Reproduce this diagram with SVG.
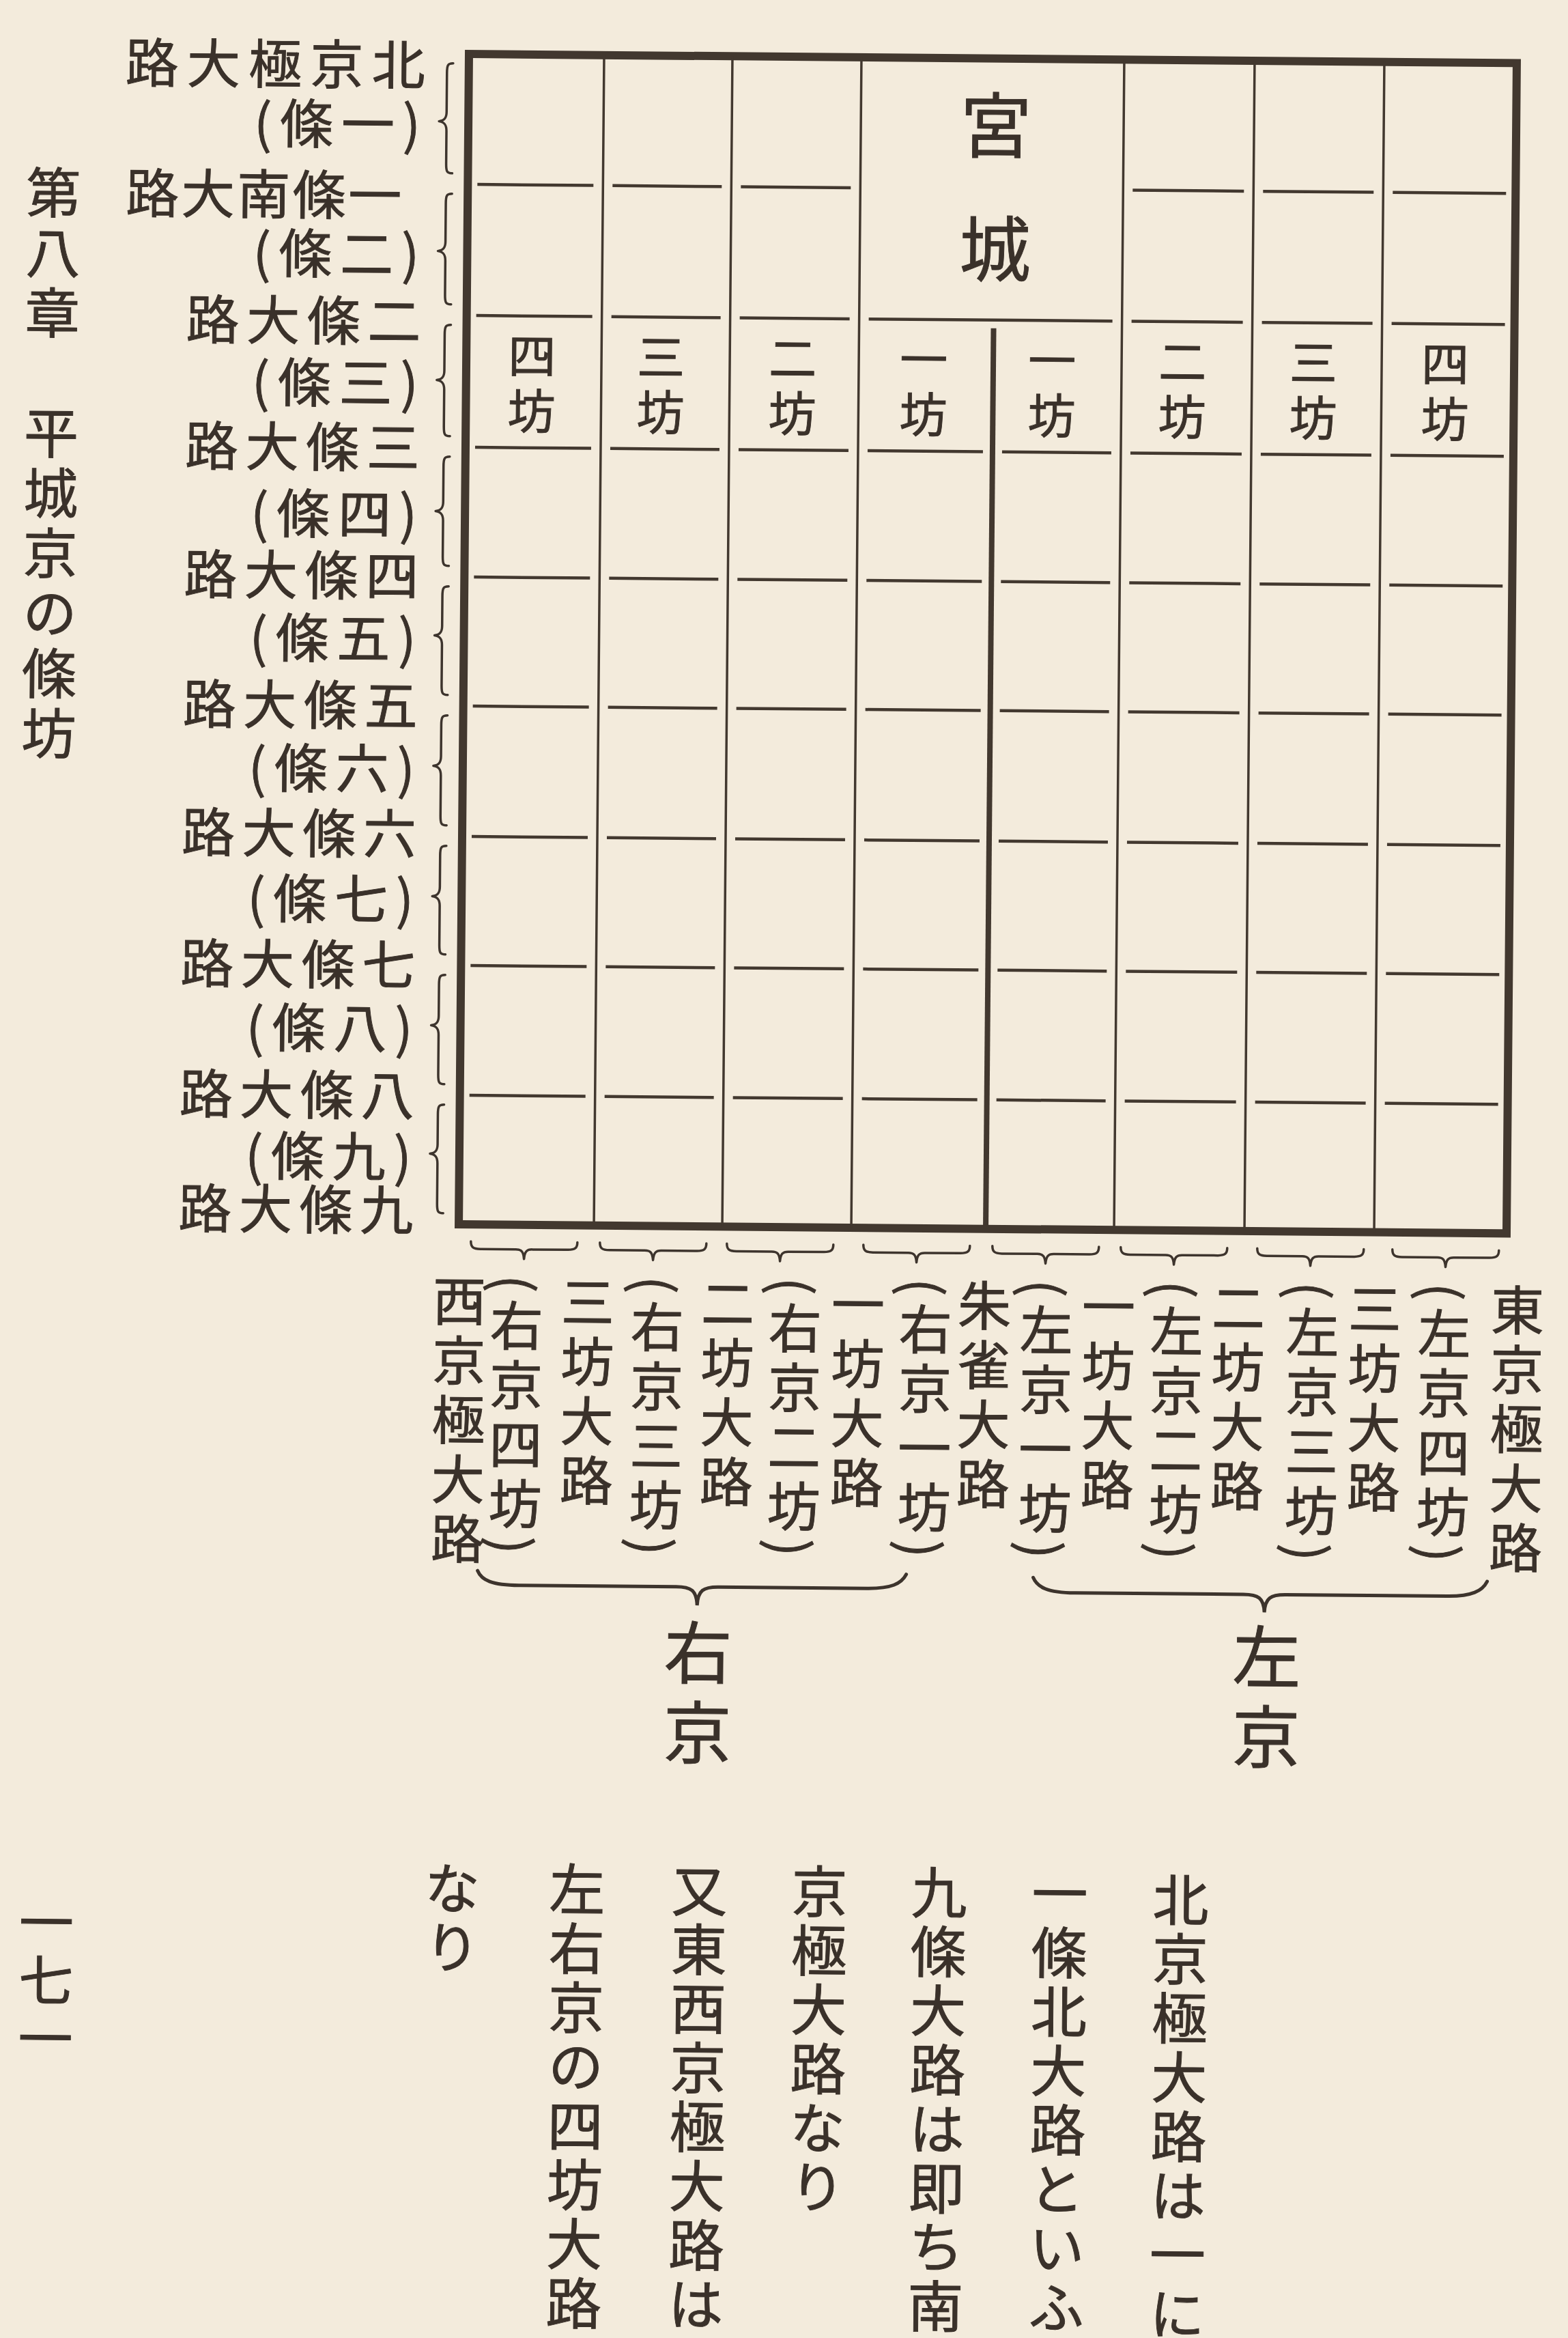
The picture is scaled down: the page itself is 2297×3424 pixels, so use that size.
<svg xmlns="http://www.w3.org/2000/svg" width="2297" height="3424" viewBox="0 0 2297 3424">
<style>
.t{font-family:"Noto Sans CJK JP","Noto Sans CJK SC",sans-serif;fill:#3a312a;stroke:#3a312a;stroke-width:0.9px}
.v{writing-mode:vertical-rl}
.g{stroke:#42382f;fill:none}
.br{stroke:#3d342d;fill:none;stroke-width:3.5;stroke-linecap:round;stroke-linejoin:round}
.bb{stroke:#3d342d;fill:none;stroke-width:5;stroke-linecap:round}
.lbl{font-size:78px}
.bo{font-size:70px;letter-spacing:11px}
.rd{font-size:78px;letter-spacing:9px}
.body{font-size:82px;letter-spacing:4.6px}
</style>
<rect width="2297" height="3424" fill="#f3ebdc"/>
<g transform="rotate(0.5 687 79)">
 <g id="grid">
  <rect x="687" y="79" width="1535" height="1714" class="g" stroke-width="12"/>
  <path class="g" stroke-width="3.5" d="M885 79V1793M1073 79V1793M1262 79V1793M1647 79V1793M1838 79V1793M2028 79V1793"/>
  <path class="g" stroke-width="8" d="M1459 474V1793"/>
  <path class="g" stroke-width="4.5" d="M701 270H871M899 270H1059M1087 270H1248M1661 270H1824M1852 270H2014M2042 270H2208
M701 462H871M899 462H1059M1087 462H1248M1276 462H1633M1661 462H1824M1852 462H2014M2042 462H2208
M701 655H871M899 655H1059M1087 655H1248M1276 655H1445M1473 655H1633M1661 655H1824M1852 655H2014M2042 655H2208
M701 845H871M899 845H1059M1087 845H1248M1276 845H1445M1473 845H1633M1661 845H1824M1852 845H2014M2042 845H2208
M701 1034H871M899 1034H1059M1087 1034H1248M1276 1034H1445M1473 1034H1633M1661 1034H1824M1852 1034H2014M2042 1034H2208
M701 1225H871M899 1225H1059M1087 1225H1248M1276 1225H1445M1473 1225H1633M1661 1225H1824M1852 1225H2014M2042 1225H2208
M701 1414H871M899 1414H1059M1087 1414H1248M1276 1414H1445M1473 1414H1633M1661 1414H1824M1852 1414H2014M2042 1414H2208
M701 1604H871M899 1604H1059M1087 1604H1248M1276 1604H1445M1473 1604H1633M1661 1604H1824M1852 1604H2014M2042 1604H2208"/>
 </g>
 <g id="palace">
  <text class="t v" x="1460" y="124" font-size="105" letter-spacing="76">宮城</text>
 </g>
 <g id="bo-labels">
  <text class="t v bo" x="783" y="485">四坊</text>
  <text class="t v bo" x="972" y="485">三坊</text>
  <text class="t v bo" x="1165" y="485">二坊</text>
  <text class="t v bo" x="1357" y="485">一坊</text>
  <text class="t v bo" x="1545" y="485">一坊</text>
  <text class="t v bo" x="1736" y="485">二坊</text>
  <text class="t v bo" x="1928" y="485">三坊</text>
  <text class="t v bo" x="2121" y="485">四坊</text>
 </g>
 <g id="jo-labels" dominant-baseline="central">
  <text class="t lbl" x="184" y="91" textLength="439" lengthAdjust="spacing">路大極京北</text>
  <text class="t lbl" x="373" y="178" textLength="244" lengthAdjust="spacing">(條一)</text>
  <text class="t lbl" x="186" y="282" textLength="404" lengthAdjust="spacing">路大南條一</text>
  <text class="t lbl" x="373" y="368" textLength="244" lengthAdjust="spacing">(條二)</text>
  <text class="t lbl" x="276" y="466" textLength="344" lengthAdjust="spacing">路大條二</text>
  <text class="t lbl" x="373" y="557" textLength="244" lengthAdjust="spacing">(條三)</text>
  <text class="t lbl" x="276" y="651" textLength="344" lengthAdjust="spacing">路大條三</text>
  <text class="t lbl" x="373" y="749" textLength="244" lengthAdjust="spacing">(條四)</text>
  <text class="t lbl" x="276" y="839" textLength="344" lengthAdjust="spacing">路大條四</text>
  <text class="t lbl" x="373" y="931" textLength="244" lengthAdjust="spacing">(條五)</text>
  <text class="t lbl" x="276" y="1029" textLength="344" lengthAdjust="spacing">路大條五</text>
  <text class="t lbl" x="373" y="1122" textLength="244" lengthAdjust="spacing">(條六)</text>
  <text class="t lbl" x="276" y="1217" textLength="344" lengthAdjust="spacing">路大條六</text>
  <text class="t lbl" x="373" y="1313" textLength="244" lengthAdjust="spacing">(條七)</text>
  <text class="t lbl" x="276" y="1409" textLength="344" lengthAdjust="spacing">路大條七</text>
  <text class="t lbl" x="373" y="1502" textLength="244" lengthAdjust="spacing">(條八)</text>
  <text class="t lbl" x="276" y="1600" textLength="344" lengthAdjust="spacing">路大條八</text>
  <text class="t lbl" x="373" y="1690" textLength="244" lengthAdjust="spacing">(條九)</text>
  <text class="t lbl" x="276" y="1768" textLength="344" lengthAdjust="spacing">路大條九</text>
 </g>
 <g id="oji-labels">
  <text class="t v rd" x="689" y="1866">西京極大路</text>
  <text class="t v rd" x="773" y="1866">(右京四坊)</text>
  <text class="t v rd" x="877" y="1866">三坊大路</text>
  <text class="t v rd" x="979" y="1866">(右京三坊)</text>
  <text class="t v rd" x="1082" y="1866">二坊大路</text>
  <text class="t v rd" x="1181" y="1866">(右京二坊)</text>
  <text class="t v rd" x="1273" y="1866">一坊大路</text>
  <text class="t v rd" x="1372" y="1866">(右京一坊)</text>
  <text class="t v rd" x="1458" y="1866">朱雀大路</text>
  <text class="t v rd" x="1549" y="1866">(左京一坊)</text>
  <text class="t v rd" x="1640" y="1866">一坊大路</text>
  <text class="t v rd" x="1740" y="1866">(左京二坊)</text>
  <text class="t v rd" x="1830" y="1866">二坊大路</text>
  <text class="t v rd" x="1939" y="1866">(左京三坊)</text>
  <text class="t v rd" x="2030" y="1866">三坊大路</text>
  <text class="t v rd" x="2132" y="1866">(左京四坊)</text>
  <text class="t v rd" x="2239" y="1866">東京極大路</text>
 </g>
 <g id="connectors">
  <path class="br" d="M664 93C656 93 655 96 655 107L655 164C655 173 652 177 644 178C652 179 655 183 655 192L655 240C655 251 656 254 664 254"/>
  <path class="br" d="M664 284C656 284 655 287 655 298L655 354C655 363 652 367 644 368C652 369 655 373 655 382L655 432C655 443 656 446 664 446"/>
  <path class="br" d="M664 476C656 476 655 479 655 490L655 543C655 552 652 556 644 557C652 558 655 562 655 571L655 625C655 636 656 639 664 639"/>
  <path class="br" d="M664 669C656 669 655 672 655 683L655 735C655 744 652 748 644 749C652 750 655 754 655 763L655 815C655 826 656 829 664 829"/>
  <path class="br" d="M664 859C656 859 655 862 655 873L655 917C655 926 652 930 644 931C652 932 655 936 655 945L655 1004C655 1015 656 1018 664 1018"/>
  <path class="br" d="M664 1048C656 1048 655 1051 655 1062L655 1108C655 1117 652 1121 644 1122C652 1123 655 1127 655 1136L655 1195C655 1206 656 1209 664 1209"/>
  <path class="br" d="M664 1239C656 1239 655 1242 655 1253L655 1299C655 1308 652 1312 644 1313C652 1314 655 1318 655 1327L655 1384C655 1395 656 1398 664 1398"/>
  <path class="br" d="M664 1428C656 1428 655 1431 655 1442L655 1488C655 1497 652 1501 644 1502C652 1503 655 1507 655 1516L655 1574C655 1585 656 1588 664 1588"/>
  <path class="br" d="M664 1618C656 1618 655 1621 655 1632L655 1676C655 1685 652 1689 644 1690C652 1691 655 1695 655 1704L655 1763C655 1774 656 1777 664 1777"/>
  <path class="br" d="M705 1818C705 1826 708 1829 719 1829L771 1829C779 1829 782 1832 783 1843C784 1832 787 1829 795 1829L847 1829C858 1829 861 1826 861 1818"/>
  <path class="br" d="M894 1818C894 1826 897 1829 908 1829L960 1829C968 1829 971 1832 972 1843C973 1832 976 1829 984 1829L1036 1829C1047 1829 1050 1826 1050 1818"/>
  <path class="br" d="M1080 1818C1080 1826 1083 1829 1094 1829L1146 1829C1154 1829 1157 1832 1158 1843C1159 1832 1162 1829 1170 1829L1222 1829C1233 1829 1236 1826 1236 1818"/>
  <path class="br" d="M1280 1818C1280 1826 1283 1829 1294 1829L1346 1829C1354 1829 1357 1832 1358 1843C1359 1832 1362 1829 1370 1829L1422 1829C1433 1829 1436 1826 1436 1818"/>
  <path class="br" d="M1469 1818C1469 1826 1472 1829 1483 1829L1535 1829C1543 1829 1546 1832 1547 1843C1548 1832 1551 1829 1559 1829L1611 1829C1622 1829 1625 1826 1625 1818"/>
  <path class="br" d="M1657 1818C1657 1826 1660 1829 1671 1829L1723 1829C1731 1829 1734 1832 1735 1843C1736 1832 1739 1829 1747 1829L1799 1829C1810 1829 1813 1826 1813 1818"/>
  <path class="br" d="M1857 1818C1857 1826 1860 1829 1871 1829L1923 1829C1931 1829 1934 1832 1935 1843C1936 1832 1939 1829 1947 1829L1999 1829C2010 1829 2013 1826 2013 1818"/>
  <path class="br" d="M2055 1818C2055 1826 2058 1829 2069 1829L2121 1829C2129 1829 2132 1832 2133 1843C2134 1832 2137 1829 2145 1829L2197 1829C2208 1829 2211 1826 2211 1818"/>
  <path class="bb" d="M719 2300C725 2314 740 2321 780 2321L1010 2321C1032 2321 1040 2326 1041 2348C1042 2326 1050 2321 1072 2321L1290 2321C1325 2321 1340 2314 1347 2300"/>
  <path class="bb" d="M1533 2303C1539 2317 1554 2325 1594 2325L1841 2325C1863 2325 1871 2330 1872 2351C1873 2330 1881 2325 1903 2325L2140 2325C2176 2325 2191 2317 2198 2303"/>
 </g>
 <g id="ukyo">
  <text class="t v" x="1043" y="2367" font-size="100" letter-spacing="17">右京</text>
 </g>
 <g id="sakyo">
  <text class="t v" x="1876" y="2366" font-size="100" letter-spacing="17">左京</text>
 </g>
 <g id="body-text">
  <text class="t v body" x="1753" y="2732">北京極大路は一に</text>
  <text class="t v body" x="1576" y="2724">一條北大路といふ</text>
  <text class="t v body" x="1399" y="2724">九條大路は即ち南</text>
  <text class="t v body" x="1224" y="2724">京極大路なり</text>
  <text class="t v body" x="1048" y="2724">又東西京極大路は</text>
  <text class="t v body" x="869" y="2724">左右京の四坊大路</text>
  <text class="t v body" x="686" y="2724">なり</text>
 </g>
 <g id="title">
  <text class="t v" x="80" y="247" font-size="80" letter-spacing="8">第八章　平城京の條坊</text>
 </g>
 <g id="page-number">
  <text class="t v" x="92" y="2780" font-size="80" letter-spacing="5">一七一</text>
 </g>
</g>
</svg>
